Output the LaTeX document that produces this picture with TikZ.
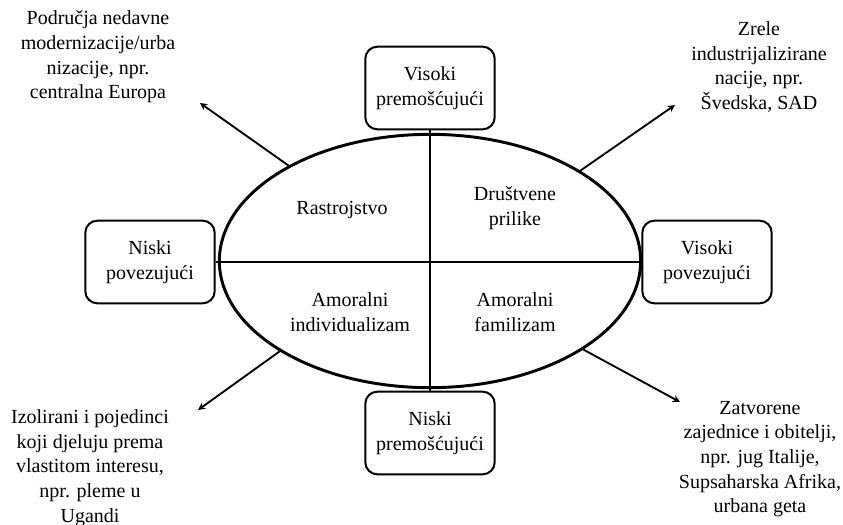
\documentclass[tikz,border=0pt]{standalone}
\usepackage{fontspec}
\setmainfont{Liberation Serif}
\usetikzlibrary{shapes.geometric}

\tikzset{
	razina/.style={draw, line width=1.5pt, rounded corners=9pt, minimum width=97pt, minimum height=62pt, align=center},
	opis/.style={align=center},
	strelica/.style={line width=1.4pt, -stealth},
}

\begin{document}
\begin{tikzpicture}[x=0.75pt,y=-0.75pt,font=\fontsize{15}{18.5}\selectfont]
	
	\useasboundingbox (0,0) rectangle (843,525);
	
	\node[draw, ellipse, line width=2.2pt, minimum width=316pt, minimum height=190pt, inner sep=0pt] (jezgra) at (430,261) {};
	
	\node[razina] (gore) at (430,88) {Visoki\\premošćujući};
	\node[razina] (dolje) at (430,433) {Niski\\premošćujući};
	\node[razina] (lijevo) at (150,262) {Niski\\povezujući};
	\node[razina] (desno) at (707,262) {Visoki\\povezujući};
	
	\draw[line width=1.5pt] (gore.south) -- (dolje.north);
	\draw[line width=1.5pt] (lijevo.east) -- (desno.west);
	
	\node[opis] (rastrojstvo) at (342,210) {Rastrojstvo};
	\node[opis] (prilike) at (515,208) {Društvene\\prilike};
	\node[opis] (individualizam) at (350,312) {Amoralni\\individualizam};
	\node[opis] (familizam) at (515,312) {Amoralni\\familizam};
	
	\node[opis] (europa) at (98,57) {Područja nedavne\\modernizacije/urba\\nizacije, npr.\\centralna Europa};
	\node[opis] (svedska) at (759,67) {Zrele\\industrijalizirane\\nacije, npr.\\Švedska, SAD};
	\node[opis] (uganda) at (90,468) {Izolirani i pojedinci\\koji djeluju prema\\vlastitom interesu,\\npr. pleme u\\Ugandi};
	\node[opis] (italija) at (760,459) {Zatvorene\\zajednice i obitelji,\\npr. jug Italije,\\Supsaharska Afrika,\\urbana geta};
	
	\coordinate (sz) at (200,103);
	\coordinate (si) at (675,105);
	\coordinate (jz) at (198,410);
	\coordinate (ji) at (680,402);
	
	\draw[strelica] (jezgra.146) -- (sz);
	\draw[strelica] (jezgra.31) -- (si);
	\draw[strelica] (jezgra.211) -- (jz);
	\draw[strelica] (jezgra.330) -- (ji);
	
\end{tikzpicture}
\end{document}
